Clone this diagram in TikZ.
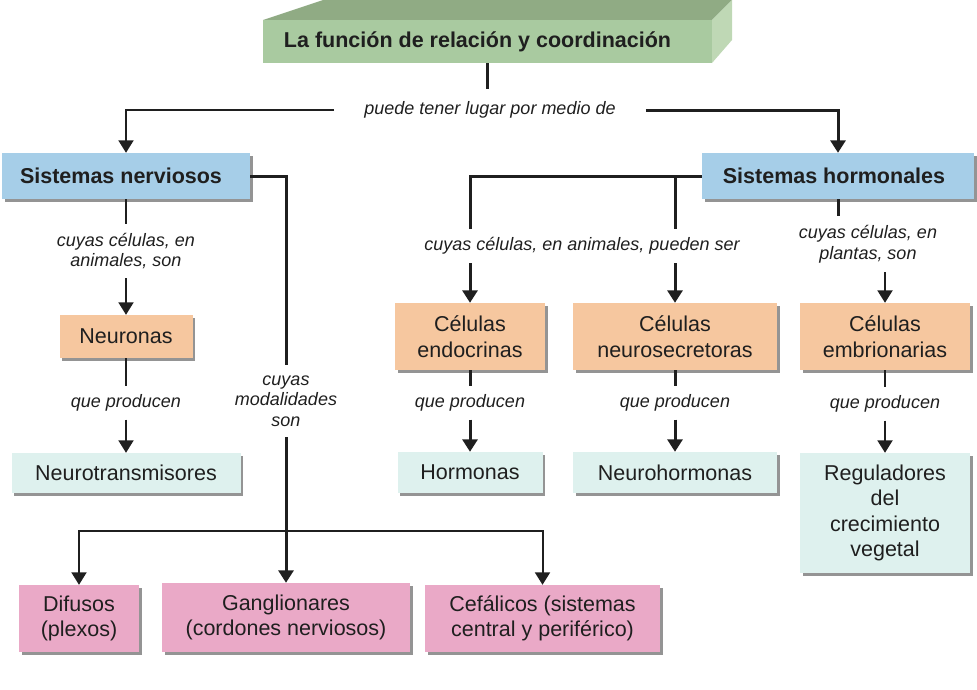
\documentclass[tikz,border=0pt]{standalone}
\usepackage{fontspec}
\setmainfont{Liberation Sans}
\usetikzlibrary{arrows.meta,shadows}
\definecolor{texto}{HTML}{1F1F1F}
\definecolor{verdefrente}{HTML}{A9CAA0}
\definecolor{verdetapa}{HTML}{90AB84}
\definecolor{verdelado}{HTML}{BFD8B5}
\definecolor{azul}{HTML}{A6CEE8}
\definecolor{naranja}{HTML}{F6C79F}
\definecolor{turquesa}{HTML}{DEF1EE}
\definecolor{rosa}{HTML}{EAA9C7}
\begin{document}
\begin{tikzpicture}[x=1pt, y=-1pt, >={Triangle[width=15pt,length=12.5pt]},
	caja/.style={rectangle, inner sep=0pt, align=center, text=texto, font=\fontsize{21.5}{25.5}\selectfont, drop shadow={shadow xshift=2.5pt, shadow yshift=-2.5pt, fill=black!60, opacity=0.7}},
	sistema/.style={caja, fill=azul, minimum height=46pt, font=\fontsize{21.5}{25.5}\selectfont\bfseries},
	celula/.style={caja, fill=naranja},
	producto/.style={caja, fill=turquesa},
	modalidad/.style={caja, fill=rosa},
	enlace/.style={rectangle, inner xsep=4pt, inner ysep=8pt, align=center, text=texto, font=\fontsize{18}{20.5}\selectfont\itshape},
	fina/.style={draw=texto, line width=2pt},
	gruesa/.style={draw=texto, line width=3pt}]
	\useasboundingbox (0,0) rectangle (977,689);

	% caja superior en perspectiva
	\fill[verdetapa] (263,20) -- (712,20) -- (732,0) -- (323,0) -- cycle;
	\fill[verdelado] (712,20) -- (732,0) -- (732,40) -- (712,63) -- cycle;
	\node (titulo) at (487.5,41.5) [rectangle, fill=verdefrente, minimum width=449pt, minimum height=43pt, text=texto, font=\fontsize{21.5}{25.5}\selectfont\bfseries] {La función de relación y coordinación\hspace*{20pt}};
	\node (puede) at (490,110) [enlace, inner xsep=30pt, inner ysep=12pt] {puede tener lugar por medio de};

	\node (nerv) at (126,176) [sistema, minimum width=248pt] {Sistemas nerviosos\hspace*{10pt}};
	\node (horm) at (838,176) [sistema, minimum width=272pt] {Sistemas hormonales\hspace*{8pt}};

	% rama nerviosa
	\node (cuyas1) at (126,251) [enlace, inner ysep=9pt] {cuyas células, en\\animales, son};
	\node (neur) at (126,336.5) [celula, minimum width=133pt, minimum height=43pt] {Neuronas};
	\node (qp1) at (126,403) [enlace] {que producen};
	\node (ntra) at (126,473) [producto, minimum width=229pt, minimum height=40pt] {Neurotransmisores};

	\node (modal) at (286,401) [enlace, inner ysep=10.5pt] {cuyas\\modalidades\\son};
	\node (difu) at (79,618.5) [modalidad, minimum width=120pt, minimum height=67pt] {Difusos\\(plexos)};
	\node (gang) at (286,617.5) [modalidad, minimum width=248pt, minimum height=69pt] {Ganglionares\\(cordones nerviosos)};
	\node (cefa) at (542.5,618.5) [modalidad, minimum width=235pt, minimum height=67pt] {Cefálicos (sistemas\\central y periférico)};
	\coordinate (rama) at (286,531);

	% rama hormonal
	\node (anim) at (582,246) [enlace, inner ysep=8.5pt] {cuyas células, en animales, pueden ser};
	\node (plant) at (868,244) [enlace, inner ysep=9.5pt] {cuyas células, en\\plantas, son};
	\node (endo) at (470,336.5) [celula, minimum width=150pt, minimum height=67pt] {Células\\endocrinas};
	\node (nsec) at (675,336.5) [celula, minimum width=204pt, minimum height=67pt] {Células\\neurosecretoras};
	\node (embr) at (885,336.5) [celula, minimum width=170pt, minimum height=67pt] {Células\\embrionarias};
	\node (qp2) at (470,403) [enlace] {que producen};
	\node (qp3) at (675,403) [enlace] {que producen};
	\node (qp4) at (885,404) [enlace] {que producen};
	\node (horms) at (470,472.5) [producto, minimum width=145pt, minimum height=41pt] {Hormonas};
	\node (nhor) at (675,472.5) [producto, minimum width=204pt, minimum height=41pt] {Neurohormonas};
	\node (regu) at (885,513) [producto, minimum width=170pt, minimum height=120pt] {Reguladores\\del\\crecimiento\\vegetal};

	\draw[gruesa] (titulo.south) to (titulo.south |- puede.north);
	\draw[fina,->] (puede.west) -| (nerv.north);
	\draw[gruesa,->] (puede.east) -| (horm.north);

	\draw[fina] (nerv) to (cuyas1);
	\draw[fina,->] (cuyas1) to (neur);
	\draw[fina] (neur) to (qp1);
	\draw[fina,->] (qp1) to (ntra);

	\draw[gruesa] (nerv.east) -| (modal.north);
	\draw[gruesa,->] (modal) to (gang);
	\draw[fina,->] (rama) -| (difu.north);
	\draw[fina,->] (rama) -| (cefa.north);

	\draw[gruesa] (horm.west) -| (endo.north |- anim.north);
	\draw[gruesa] (nsec.north |- horm.west) to (nsec.north |- anim.north);
	\draw[gruesa,->] (endo.north |- anim.south) to (endo);
	\draw[gruesa,->] (nsec.north |- anim.south) to (nsec);
	\draw[gruesa] (horm.south) to (horm.south |- plant.north);
	\draw[fina,->] (embr.north |- plant.south) to (embr);

	\draw[gruesa] (endo) to (qp2);
	\draw[gruesa,->] (qp2) to (horms);
	\draw[gruesa] (nsec) to (qp3);
	\draw[gruesa,->] (qp3) to (nhor);
	\draw[fina] (embr) to (qp4);
	\draw[fina,->] (qp4) to (regu);
\end{tikzpicture}
\end{document}
